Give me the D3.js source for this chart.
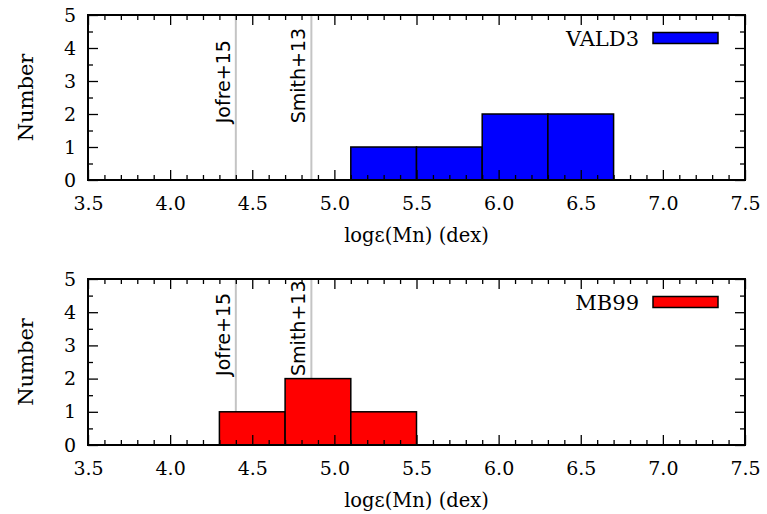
<!DOCTYPE html>
<html>
<head>
<meta charset="utf-8">
<script src="https://cdn.jsdelivr.net/npm/d3@7"></script>
<style>
  html, body { margin: 0; padding: 0; background: #fff; }
  svg { display: block; }
  .serif { font-family: "DejaVu Serif", serif; }
</style>
</head>
<body>
<svg id="chart" width="767" height="514"></svg>
<script>
// ---- data ----
const xTickValues = [3.5, 4.0, 4.5, 5.0, 5.5, 6.0, 6.5, 7.0, 7.5];
const yTickValues = [0, 1, 2, 3, 4, 5];
const binWidth = 0.4;
const vald3BinStarts = [5.1, 5.5, 5.9, 6.3];
const vald3Counts = [1, 1, 2, 2];
const mb99BinStarts = [4.3, 4.7, 5.1];
const mb99Counts = [1, 2, 1];
const refNames = ["Jofre+15", "Smith+13"];
const refValues = [4.40, 4.86];
const refLabelY = [1.72, 2.08];   // label start (count units) for each panel
const seriesNames = ["VALD3", "MB99"];
const xLabel = "logε(Mn) (dex)";
const yLabel = "Number";

// ---- layout ----
const svg = d3.select("#chart");
const left = 88, right = 745;
const panels = [
  { top: 15, bottom: 180, name: seriesNames[0], starts: vald3BinStarts, counts: vald3Counts, color: "#0000ff", labelY: refLabelY[0] },
  { top: 279, bottom: 445, name: seriesNames[1], starts: mb99BinStarts, counts: mb99Counts, color: "#ff0000", labelY: refLabelY[1] }
];

const x = d3.scaleLinear().domain([3.5, 7.5]).range([left, right]);
const minorX = d3.range(35, 76).map(d => d / 10).filter(v => !xTickValues.some(t => Math.abs(t - v) < 1e-9));
const minorY = [0.5, 1.5, 2.5, 3.5, 4.5];

panels.forEach(p => {
  const y = d3.scaleLinear().domain([0, 5]).range([p.bottom, p.top]);
  const g = svg.append("g");

  // reference lines
  g.selectAll("line.ref").data(refValues).join("line")
    .attr("class", "ref")
    .attr("x1", d => x(d)).attr("x2", d => x(d))
    .attr("y1", p.top).attr("y2", p.bottom)
    .attr("stroke", "#c4c4c4").attr("stroke-width", 2);

  // bars
  const bars = p.starts.map((s, i) => ({ s, c: p.counts[i] }));
  g.selectAll("rect.bar").data(bars).join("rect")
    .attr("class", "bar")
    .attr("x", d => x(d.s)).attr("width", d => x(d.s + binWidth) - x(d.s))
    .attr("y", d => y(d.c)).attr("height", d => y(0) - y(d.c))
    .attr("fill", p.color).attr("stroke", "#000").attr("stroke-width", 1.5);

  // axes (inward ticks)
  const styleAxis = sel => {
    sel.select(".domain").remove();
    sel.selectAll("line").attr("stroke", "#000").attr("stroke-width", 1.3);
    sel.selectAll("text").attr("class", "serif").attr("font-size", 19).attr("fill", "#000");
  };
  g.append("g").attr("transform", `translate(0,${p.bottom})`)
    .call(d3.axisBottom(x).tickValues(xTickValues).tickFormat(d3.format(".1f")).tickSizeInner(-10).tickSizeOuter(0).tickPadding(17))
    .call(styleAxis);
  g.append("g").attr("transform", `translate(0,${p.bottom})`)
    .call(d3.axisBottom(x).tickValues(minorX).tickFormat("").tickSizeInner(-5).tickSizeOuter(0))
    .call(styleAxis);
  g.append("g").attr("transform", `translate(0,${p.top})`)
    .call(d3.axisTop(x).tickValues(xTickValues).tickFormat("").tickSizeInner(-10).tickSizeOuter(0))
    .call(styleAxis);
  g.append("g").attr("transform", `translate(0,${p.top})`)
    .call(d3.axisTop(x).tickValues(minorX).tickFormat("").tickSizeInner(-5).tickSizeOuter(0))
    .call(styleAxis);
  g.append("g").attr("transform", `translate(${left},0)`)
    .call(d3.axisLeft(y).tickValues(yTickValues).tickFormat(d3.format("d")).tickSizeInner(-10).tickSizeOuter(0).tickPadding(12))
    .call(styleAxis);
  g.append("g").attr("transform", `translate(${left},0)`)
    .call(d3.axisLeft(y).tickValues(minorY).tickFormat("").tickSizeInner(-5).tickSizeOuter(0))
    .call(styleAxis);
  g.append("g").attr("transform", `translate(${right},0)`)
    .call(d3.axisRight(y).tickValues(yTickValues).tickFormat("").tickSizeInner(-10).tickSizeOuter(0))
    .call(styleAxis);
  g.append("g").attr("transform", `translate(${right},0)`)
    .call(d3.axisRight(y).tickValues(minorY).tickFormat("").tickSizeInner(-5).tickSizeOuter(0))
    .call(styleAxis);

  // frame
  g.append("rect")
    .attr("x", left).attr("y", p.top)
    .attr("width", right - left).attr("height", p.bottom - p.top)
    .attr("fill", "none").attr("stroke", "#000").attr("stroke-width", 2);

  // reference labels
  g.selectAll("text.reflabel").data(refNames).join("text")
    .attr("class", "reflabel")
    .attr("transform", (d, i) => `translate(${x(refValues[i]) - 6},${y(p.labelY)}) rotate(-90)`)
    .attr("font-family", "'DejaVu Sans', sans-serif")
    .attr("font-size", 19)
    .attr("fill", "#000")
    .text(d => d);

  // legend
  const ly = p.top + 23;
  g.append("text").attr("class", "serif")
    .attr("x", 639).attr("y", ly).attr("dy", "0.36em")
    .attr("text-anchor", "end").attr("font-size", 21).attr("fill", "#000")
    .text(p.name);
  g.append("rect")
    .attr("x", 653).attr("y", ly - 5.5).attr("width", 65).attr("height", 11)
    .attr("fill", p.color).attr("stroke", "#000").attr("stroke-width", 1.5);

  // axis titles
  g.append("text").attr("class", "serif")
    .attr("x", (left + right) / 2).attr("y", p.bottom + 62)
    .attr("text-anchor", "middle").attr("font-size", 19.5).attr("fill", "#000")
    .text(xLabel);
  g.append("text").attr("class", "serif")
    .attr("transform", `translate(33,${(p.top + p.bottom) / 2}) rotate(-90)`)
    .attr("text-anchor", "middle").attr("font-size", 21).attr("fill", "#000")
    .text(yLabel);
});
</script>
</body>
</html>
